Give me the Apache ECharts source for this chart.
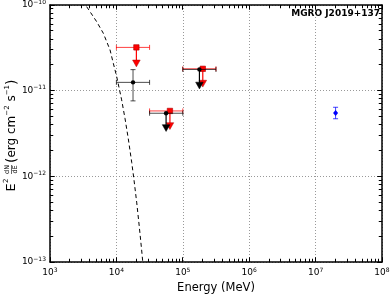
<!DOCTYPE html>
<html><head><meta charset="utf-8">
<script src="https://cdn.jsdelivr.net/npm/echarts@6/dist/echarts.min.js"></script>
<style>html,body{margin:0;padding:0;background:#fff}#c{width:390px;height:295px}</style>
</head><body><div id="c"></div>
<script>
// ---- data ----
const xTicks = [1e3, 1e4, 1e5, 1e6, 1e7, 1e8];
const yTicks = [1e-13, 1e-12, 1e-11, 1e-10];

const curveE = [3.37e3, 3.57e3, 5.05e3, 6.35e3, 8.02e3, 8.98e3, 1.01e4, 1.20e4, 1.35e4, 1.51e4, 1.70e4, 1.84e4, 2.02e4, 2.21e4, 2.40e4, 2.56e4];
const curveF = [1.15e-10, 9.55e-11, 6.38e-11, 4.68e-11, 2.99e-11, 2.09e-11, 1.46e-11, 7.8e-12, 4.7e-12, 2.75e-12, 1.46e-12, 9.1e-13, 5.0e-13, 2.6e-13, 1.38e-13, 8.1e-14];

const redE    = [2.0e4, 6.4e4, 2.0e5];
const redF    = [3.2e-11, 5.8e-12, 1.8e-11];
const redElo  = [1.0e4, 3.16e4, 1.0e5];
const redEhi  = [3.16e4, 1.0e5, 3.16e5];
const redUL   = [2.1e-11, 3.9e-12, 1.22e-11];

const blackE   = [1.78e4, 5.6e4, 1.78e5];
const blackF   = [1.25e-11, 5.45e-12, 1.77e-11];
const blackElo = [1.0e4, 3.16e4, 1.0e5];
const blackEhi = [3.16e4, 1.0e5, 3.16e5];
const blackFlo = [7.6e-12, null, null];
const blackFhi = [1.76e-11, null, null];
const blackUL  = [null, 3.7e-12, 1.16e-11];

const blueE   = [2.0e7];
const blueF   = [5.5e-12];
const blueFlo = [4.7e-12];
const blueFhi = [6.4e-12];

const titleText = 'MGRO J2019+137';
const xName = 'Energy (MeV)';

// ---- build ----
const F = 'DejaVu Sans';
const xMin = xTicks[0], xMax = xTicks[xTicks.length - 1];
const yMin = yTicks[0], yMax = yTicks[yTicks.length - 1];
function minorsOf(ticks) {
  const out = [];
  for (let i = 0; i < ticks.length - 1; i++) for (let k = 2; k <= 9; k++) out.push(ticks[i] * k);
  return out;
}
const xTickRows = xTicks.map(v => [v, yMin, 4]).concat(minorsOf(xTicks).map(v => [v, yMin, 2.5]));
const yTickRows = yTicks.map(v => [xMin, v, 4]).concat(minorsOf(yTicks).map(v => [xMin, v, 2.5]));

function rows(E, Fv, Elo, Ehi, Flo, Fhi, UL) {
  return E.map((e, i) => [e, Fv[i],
    Elo && Elo[i] != null ? Elo[i] : '-', Ehi && Ehi[i] != null ? Ehi[i] : '-',
    Flo && Flo[i] != null ? Flo[i] : '-', Fhi && Fhi[i] != null ? Fhi[i] : '-',
    UL && UL[i] != null ? UL[i] : '-']);
}
function supFmt(v) {
  const e = Math.round(Math.log10(v));
  return '{b|10}{s|' + (e < 0 ? '\u2212' + (-e) : e) + '}';
}
const richLab = {
  b: { fontSize: 9, fontFamily: F, color: '#000', lineHeight: 12 },
  s: { fontSize: 6, fontFamily: F, color: '#000', lineHeight: 7, verticalAlign: 'top' }
};
function mkRender(opt) {
  return function (params, api) {
    const x = api.value(0), y = api.value(1), xlo = api.value(2), xhi = api.value(3),
      ylo = api.value(4), yhi = api.value(5), ar = api.value(6);
    const p = api.coord([x, y]);
    const ch = [];
    const cap = 2.5;
    const bs = { stroke: opt.bar, lineWidth: 1 };
    if (xlo > 0) {
      const a = api.coord([xlo, y]), b = api.coord([xhi, y]);
      ch.push({ type: 'line', shape: { x1: a[0], y1: a[1], x2: b[0], y2: b[1] }, style: bs });
      ch.push({ type: 'line', shape: { x1: a[0], y1: a[1] - cap, x2: a[0], y2: a[1] + cap }, style: bs });
      ch.push({ type: 'line', shape: { x1: b[0], y1: b[1] - cap, x2: b[0], y2: b[1] + cap }, style: bs });
    }
    if (ylo > 0) {
      const a = api.coord([x, ylo]), b = api.coord([x, yhi]);
      ch.push({ type: 'line', shape: { x1: a[0], y1: a[1], x2: b[0], y2: b[1] }, style: bs });
      ch.push({ type: 'line', shape: { x1: a[0] - cap, y1: a[1], x2: a[0] + cap, y2: a[1] }, style: bs });
      ch.push({ type: 'line', shape: { x1: b[0] - cap, y1: b[1], x2: b[0] + cap, y2: b[1] }, style: bs });
    }
    if (ar > 0) {
      const t = api.coord([x, ar]);
      ch.push({ type: 'line', shape: { x1: p[0], y1: p[1], x2: t[0], y2: t[1] }, style: { stroke: opt.color, lineWidth: 1.2 } });
      ch.push({ type: 'polygon', shape: { points: [[t[0] - 3.8, t[1] - 3], [t[0] + 3.8, t[1] - 3], [t[0], t[1] + 3.8]] }, style: { fill: opt.color, stroke: opt.edge, lineWidth: 0.5 } });
    }
    if (opt.marker === 'rect') {
      ch.push({ type: 'rect', shape: { x: p[0] - 2.7, y: p[1] - 2.7, width: 5.4, height: 5.4 }, style: { fill: opt.color, stroke: opt.edge, lineWidth: 0.6 } });
    } else if (opt.marker === 'circle') {
      ch.push({ type: 'circle', shape: { cx: p[0], cy: p[1], r: 2.2 }, style: { fill: opt.color } });
    } else if (opt.marker === 'diamond') {
      ch.push({ type: 'polygon', shape: { points: [[p[0], p[1] - 3], [p[0] + 2.5, p[1]], [p[0], p[1] + 3], [p[0] - 2.5, p[1]]] }, style: { fill: opt.color } });
    }
    return { type: 'group', children: ch };
  };
}
const snap = v => Math.round(v - 0.5) + 0.5;
function xTickRender(params, api) {
  const v = api.value(0), L = api.value(2);
  const b = api.coord([v, yMin]), t = api.coord([v, yMax]);
  const x = snap(b[0]);
  const st = { stroke: '#000', lineWidth: 1 };
  return { type: 'group', children: [
    { type: 'line', shape: { x1: x, y1: b[1], x2: x, y2: b[1] - L - 0.75 }, style: st },
    { type: 'line', shape: { x1: x, y1: t[1], x2: x, y2: t[1] + L + 0.75 }, style: st }
  ] };
}
function yTickRender(params, api) {
  const v = api.value(1), L = api.value(2);
  const l = api.coord([xMin, v]), r = api.coord([xMax, v]);
  const y = snap(l[1]);
  const st = { stroke: '#000', lineWidth: 1 };
  return { type: 'group', children: [
    { type: 'line', shape: { x1: l[0], y1: y, x2: l[0] + L + 0.75, y2: y }, style: st },
    { type: 'line', shape: { x1: r[0], y1: y, x2: r[0] - L - 0.75, y2: y }, style: st }
  ] };
}
const enc = { x: 0, y: 1 };
const xBase = { type: 'log', logBase: 10, min: xMin, max: xMax };
const yBase = { type: 'log', logBase: 10, min: yMin, max: yMax };
const lineStyleAx = { show: true, lineStyle: { color: '#000', width: 1.5 } };

const option = {
  animation: false,
  grid: { left: 50, right: 8, top: 5, bottom: 33, containLabel: false, outerBoundsMode: 'none' },
  xAxis: [
    Object.assign({}, xBase, {
      position: 'bottom', axisLine: lineStyleAx, axisTick: { show: false },
      axisLabel: { formatter: supFmt, rich: richLab, margin: 5 },
      splitLine: { show: true, lineStyle: { color: '#999', type: [1, 2], width: 1 } },
      name: xName, nameLocation: 'middle', nameGap: 19,
      nameTextStyle: { fontFamily: F, fontSize: 11.5, color: '#000' }
    }),
    Object.assign({}, xBase, {
      position: 'top', axisLine: lineStyleAx, axisTick: { show: false },
      axisLabel: { show: false }, splitLine: { show: false }
    })
  ],
  yAxis: [
    Object.assign({}, yBase, {
      position: 'left', axisLine: lineStyleAx, axisTick: { show: false },
      axisLabel: { formatter: supFmt, rich: richLab, margin: 4 },
      splitLine: { show: true, lineStyle: { color: '#999', type: [1, 2], width: 1 } }
    }),
    Object.assign({}, yBase, {
      position: 'right', axisLine: lineStyleAx, axisTick: { show: false },
      axisLabel: { show: false }, splitLine: { show: false }
    })
  ],
  graphic: [
    { type: 'text', right: 10, top: 9, style: { text: titleText, fontFamily: F, fontSize: 9, fontWeight: 'bold', fill: '#000' } },
    { type: 'group', x: 11, y: 133.5, rotation: Math.PI / 2, children: [
      { type: 'text', x: -58, y: 1, style: { text: 'E', fontFamily: F, fontSize: 13, verticalAlign: 'middle', fill: '#000' } },
      { type: 'text', x: -49.5, y: -5, style: { text: '2', fontFamily: F, fontSize: 7, verticalAlign: 'middle', fill: '#000' } },
      { type: 'text', x: -36, y: -3.2, style: { text: 'dN', fontFamily: F, fontSize: 6.5, align: 'center', verticalAlign: 'middle', fill: '#000' } },
      { type: 'line', shape: { x1: -40.5, y1: 0.5, x2: -31.5, y2: 0.5 }, style: { stroke: '#000', lineWidth: 0.6 } },
      { type: 'text', x: -36, y: 4.5, style: { text: 'dE', fontFamily: F, fontSize: 6.5, align: 'center', verticalAlign: 'middle', fill: '#000' } },
      { type: 'text', x: -29.5, y: 1, style: { text: '{p|(}{t|erg cm}{s|\u22122}{t| s}{s|\u22121}{p|)}', verticalAlign: 'middle',
        rich: {
          p: { fontFamily: F, fontSize: 14, lineHeight: 16, color: '#000' },
          t: { fontFamily: F, fontSize: 12, lineHeight: 16, color: '#000' },
          s: { fontFamily: F, fontSize: 7, lineHeight: 9, verticalAlign: 'top', color: '#000' }
        } } }
    ] }
  ],
  series: [
    { type: 'custom', renderItem: xTickRender, data: xTickRows, encode: enc, silent: true, clip: false, z: 5 },
    { type: 'custom', renderItem: yTickRender, data: yTickRows, encode: enc, silent: true, clip: false, z: 5 },
    { type: 'line', xAxisIndex: 0, yAxisIndex: 0, data: curveE.map((e, i) => [e, curveF[i]]), showSymbol: false, symbol: 'none',
      lineStyle: { color: '#000', width: 1, type: [4, 3] }, clip: true, z: 1 },
    { type: 'custom', renderItem: mkRender({ color: '#ff0000', edge: '#aa0000', bar: 'rgba(255,0,0,0.75)', marker: 'rect' }),
      data: rows(redE, redF, redElo, redEhi, null, null, redUL), encode: enc, z: 2 },
    { type: 'custom', renderItem: mkRender({ color: '#000', edge: '#000', bar: 'rgba(0,0,0,0.7)', marker: 'circle' }),
      data: rows(blackE, blackF, blackElo, blackEhi, blackFlo, blackFhi, blackUL), encode: enc, z: 3 },
    { type: 'custom', renderItem: mkRender({ color: '#0000ff', edge: '#0000ff', bar: 'rgba(0,0,255,0.75)', marker: 'diamond' }),
      data: rows(blueE, blueF, null, null, blueFlo, blueFhi, null), encode: enc, z: 4 }
  ]
};
const chart = echarts.init(document.getElementById('c'), null, { renderer: 'canvas' });
chart.setOption(option);
</script></body></html>
